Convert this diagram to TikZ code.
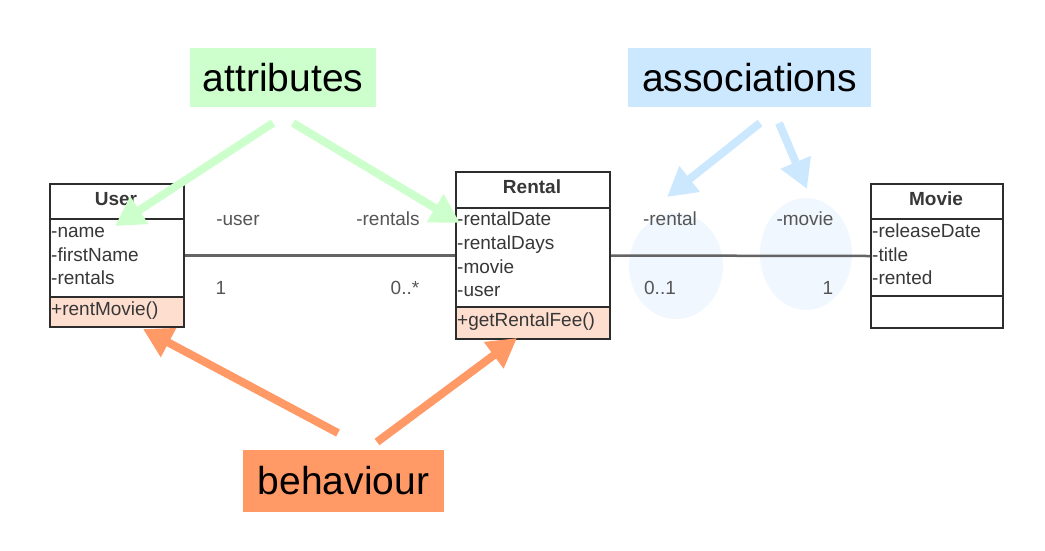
\documentclass[tikz,border=0pt]{standalone}
\usepackage{fontspec}
\setmainfont{Liberation Sans}
\usetikzlibrary{arrows.meta}
\definecolor{attrgreen}{RGB}{204,255,204}
\definecolor{assocblue}{RGB}{204,232,255}
\definecolor{behorange}{RGB}{255,153,102}
\definecolor{methfill}{RGB}{253,222,207}
\definecolor{ellblue}{RGB}{240,247,254}
\definecolor{umlborder}{RGB}{45,45,45}
\definecolor{umltext}{RGB}{55,55,55}
\definecolor{assocline}{RGB}{100,100,100}
\definecolor{labgray}{RGB}{85,85,85}
\tikzset{
  tag/.style={font=\fontsize{39}{45}\selectfont, inner sep=0pt, text=black},
  row/.style={anchor=west, font=\fontsize{19}{22}\selectfont, text=umltext, inner sep=0pt, text height=14pt, text depth=4pt},
  ctitle/.style={font=\bfseries\fontsize{19}{22}\selectfont, text=umltext, inner sep=0pt, text height=14pt, text depth=4pt},
  endlabel/.style={font=\fontsize{19}{22}\selectfont, text=labgray, inner sep=0pt, text height=14pt, text depth=4pt},
  frame/.style={draw=umlborder, line width=2pt},
  pointer/.style={line width=8pt, -{Triangle[length=29pt,width=31pt]}},
  assoc/.style={draw=assocline, line width=2.5pt},
}
\begin{document}
\begin{tikzpicture}[x=1pt,y=-1pt]
\useasboundingbox (0,0) rectangle (1045,550);
% tags
\node[tag, fill=attrgreen, minimum width=186pt, minimum height=59pt] (attr) at (283,77.5) {attributes};
\node[tag, fill=assocblue, minimum width=243pt, minimum height=59pt] (assoc) at (749.5,77.5) {associations};
\node[tag, fill=behorange, minimum width=201pt, minimum height=62pt] (behav) at (343.5,481) {behaviour};
% ellipses
\fill[ellblue] (676,266) ellipse [x radius=47pt, y radius=53pt];
\fill[ellblue] (806,254) ellipse [x radius=46pt, y radius=56pt];
% method fills
\fill[methfill] (49,297) rectangle (183,326);
\fill[methfill] (455,307) rectangle (609,338);
% class frames
\node[frame, anchor=north west, minimum width=134pt, minimum height=143pt, inner sep=0pt] (user) at (49,183) {};
\node[frame, anchor=north west, minimum width=154pt, minimum height=167pt, inner sep=0pt] (rental) at (455,171) {};
\node[frame, anchor=north west, minimum width=132pt, minimum height=144pt, inner sep=0pt] (movie) at (870,183) {};
\draw[frame] (49,219) -- (183,219) (49,297) -- (183,297);
\draw[frame] (455,208) -- (609,208) (455,307) -- (609,307);
\draw[frame] (870,219) -- (1002,219) (870,296) -- (1002,296);
% class texts
\node[ctitle] (usert) at (116,200) {User};
\node[row] (u1) at (51,232) {-name};
\node[row] (u2) at (51,256) {-firstName};
\node[row] (u3) at (51,279) {-rentals};
\node[row] (u4) at (51,310) {+rentMovie()};
\node[ctitle] (rentalt) at (532,188) {Rental};
\node[row] (r1) at (457,220) {-rentalDate};
\node[row] (r2) at (457,244) {-rentalDays};
\node[row] (r3) at (457,268) {-movie};
\node[row] (r4) at (457,291) {-user};
\node[row] (r5) at (457,321) {+getRentalFee()};
\node[ctitle] (moviet) at (936,200) {Movie};
\node[row] (m1) at (872,232) {-releaseDate};
\node[row] (m2) at (872,256) {-title};
\node[row] (m3) at (872,279) {-rented};
% associations
\draw[assoc] (user.east) -- (rental.west);
\draw[assoc] (rental.east) -- (movie.west);
\node[endlabel] (l1) at (238,220) {-user};
\node[endlabel] (l2) at (388,220) {-rentals};
\node[endlabel] (l3) at (221,289) {1};
\node[endlabel] (l4) at (405,289) {0..*};
\node[endlabel] (l5) at (670,220) {-rental};
\node[endlabel] (l6) at (805,220) {-movie};
\node[endlabel] (l7) at (660,289) {0..1};
\node[endlabel] (l8) at (828,289) {1};
% arrows
\coordinate (ga1) at (273,123);
\coordinate (ga2) at (293,123);
\coordinate (gt1) at (115,226);
\coordinate (gt2) at (460,223);
\coordinate (ba1) at (760,123);
\coordinate (ba2) at (779,123);
\coordinate (bt1) at (667,197);
\coordinate (bt2) at (807,189);
\coordinate (oa1) at (338,433);
\coordinate (oa2) at (377,442);
\coordinate (ot1) at (143,329);
\coordinate (ot2) at (517,338);
\draw[pointer, draw=attrgreen, fill=attrgreen] (ga1) -- (gt1);
\draw[pointer, draw=attrgreen, fill=attrgreen] (ga2) -- (gt2);
\draw[pointer, draw=assocblue, fill=assocblue] (ba1) -- (bt1);
\draw[pointer, draw=assocblue, fill=assocblue] (ba2) -- (bt2);
\draw[pointer, draw=behorange, fill=behorange] (oa1) -- (ot1);
\draw[pointer, draw=behorange, fill=behorange] (oa2) -- (ot2);
\end{tikzpicture}
\end{document}
